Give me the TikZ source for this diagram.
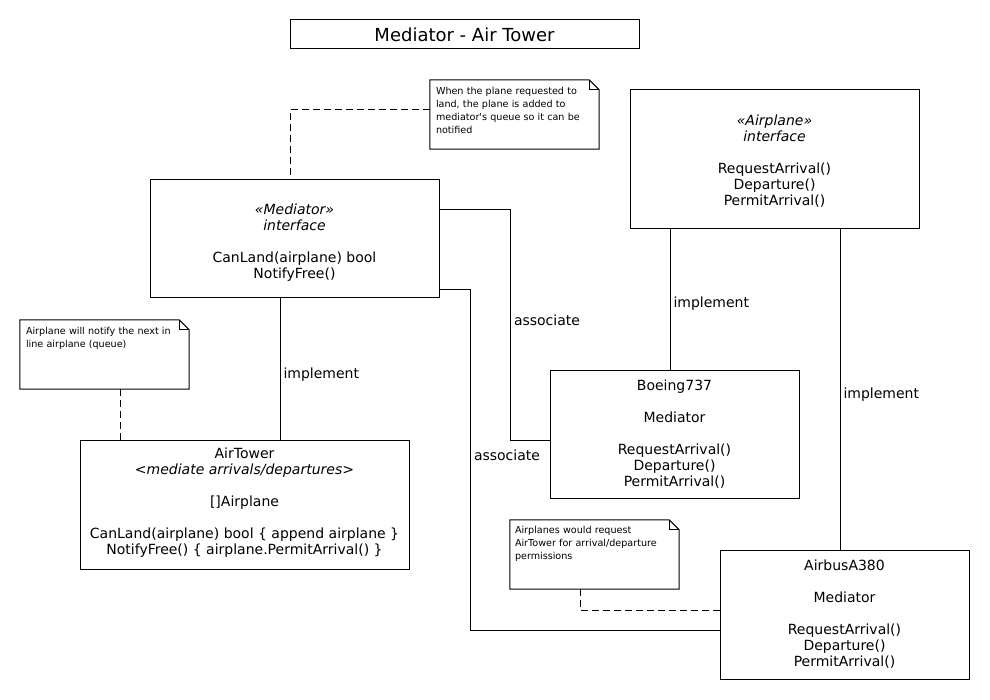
\documentclass[tikz,border=0pt]{standalone}
\usepackage{fontspec}
\setmainfont{DejaVu Sans}[Ligatures=TeXOff]
\usetikzlibrary{calc}
\tikzset{
  umlbox/.style={draw, line width=1pt, inner sep=0pt, align=center, font=\fontsize{14}{16}\selectfont},
  titlebox/.style={draw, line width=1pt, inner sep=0pt, font=\fontsize{18}{20}\selectfont},
  notebox/.style={inner sep=0pt, minimum width=169pt, minimum height=69pt},
  notetext/.style={anchor=north west, inner sep=0pt, align=left, font=\fontsize{9.6}{13}\selectfont},
  conn/.style={line width=1pt},
  dashconn/.style={line width=1pt, dash pattern=on 7pt off 4pt},
  lbl/.style={right, inner sep=3pt, font=\fontsize{14}{16}\selectfont}
}
\newcommand\drawnote[1]{%
  \draw[conn] (#1.north west) -- ([xshift=-10pt]#1.north east) -- ([yshift=-10pt]#1.north east) -- (#1.south east) -- (#1.south west) -- cycle;
  \draw[conn] ([xshift=-10pt]#1.north east) -- ([xshift=-10pt,yshift=-10pt]#1.north east) -- ([yshift=-10pt]#1.north east);
}
\begin{document}
\begin{tikzpicture}[x=1pt,y=-1pt]
\useasboundingbox (0,0) rectangle (990,700);
\fill[white] (0,0) rectangle (990,700);

% title
\node[titlebox, minimum width=349pt, minimum height=29pt] (title) at (464.5,34.5) {Mediator - Air Tower};

% notes
\node[notebox] (n1) at (514.5,114.5) {};
\drawnote{n1}
\node[notetext, text width=155pt] (n1t) at ([xshift=6pt,yshift=-7pt]n1.north west) {When the plane requested to\\land, the plane is added to\\mediator's queue so it can be\\notified};

\node[notebox] (n2) at (104.5,354.5) {};
\drawnote{n2}
\node[notetext, text width=155pt] (n2t) at ([xshift=6pt,yshift=-7pt]n2.north west) {Airplane will notify the next in\\line airplane (queue)};

\node[notebox] (n3) at (594.5,554.5) {};
\drawnote{n3}
\node[notetext, text width=155pt] (n3t) at ([xshift=5pt,yshift=-6.5pt]n3.north west) {Airplanes would request\\AirTower for arrival/departure\\permissions};

% classes
\node[umlbox, minimum width=289pt, minimum height=118pt] (med) at (294.5,239) {\rule{0pt}{18.5pt}\textit{«Mediator»}\\\textit{interface}\\[16pt]CanLand(airplane) bool\\NotifyFree()};

\node[umlbox, minimum width=289pt, minimum height=139pt] (air) at (774.5,159.5) {\rule{0pt}{14.5pt}\textit{«Airplane»}\\\textit{interface}\\[16pt]RequestArrival()\\Departure()\\PermitArrival()};

\node[umlbox, minimum width=329pt, minimum height=129pt] (tower) at (244.5,504.5) {AirTower\\\textit{<mediate arrivals/departures>}\\[16pt]{[]}Airplane\\[16pt]CanLand(airplane) bool \{ append airplane \}\\NotifyFree() \{ airplane.PermitArrival() \}\rule[-7.5pt]{0pt}{7.5pt}};

\node[umlbox, minimum width=249pt, minimum height=128pt] (boe) at (674.5,434) {Boeing737\\[16pt]Mediator\\[16pt]RequestArrival()\\Departure()\\PermitArrival()};

\node[umlbox, minimum width=249pt, minimum height=129pt] (bus) at (844.5,614.5) {AirbusA380\\[16pt]Mediator\\[16pt]RequestArrival()\\Departure()\\PermitArrival()};

% connectors
\draw[dashconn] ([yshift=4.5pt]n1.west) -| ([xshift=-4.5pt]med.north);
\draw[dashconn] ([xshift=15.5pt]n2.south) -- ([xshift=15.5pt]n2.south |- tower.north);
\draw[dashconn] ([xshift=-14.5pt]n3.south) |- ([yshift=4.5pt]bus.west);

\draw[conn] ([xshift=-14.5pt]med.south) -- ([xshift=-14.5pt]med.south |- tower.north) node[lbl, pos=0.542] {implement};
\draw[conn] ([xshift=-104.5pt]air.south) -- ([xshift=-104.5pt]air.south |- boe.north) node[lbl, pos=0.532] {implement};
\draw[conn] ([xshift=65.5pt]air.south) -- ([xshift=65.5pt]air.south |- bus.north) node[lbl, pos=0.517] {implement};

\draw[conn] ([yshift=29pt]med.east) -- ++(71,0) |- ([yshift=-6pt]boe.west) node[lbl, pos=0.239] {associate};
\draw[conn] ([yshift=-51pt]med.east) -- ++(31,0) |- ([yshift=-15.5pt]bus.west) node[lbl, pos=0.243] {associate};
\end{tikzpicture}
\end{document}
